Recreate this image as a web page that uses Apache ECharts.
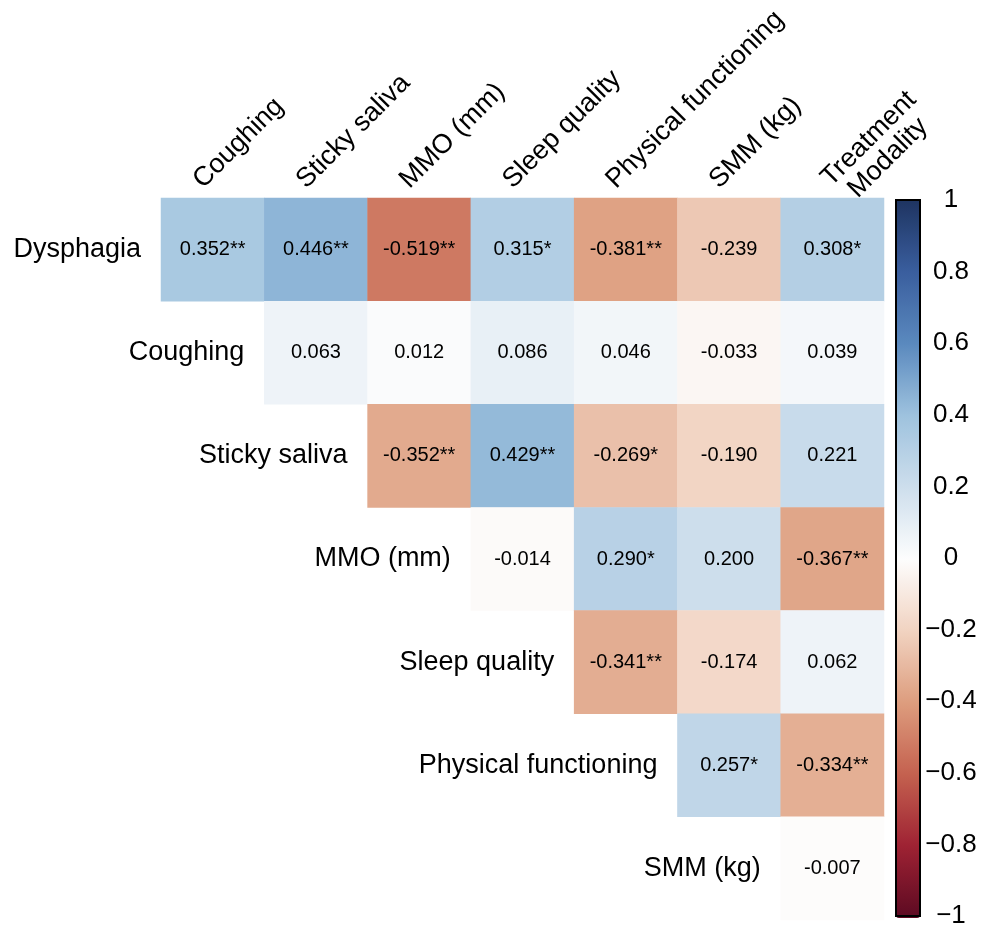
<!DOCTYPE html>
<html>
<head>
<meta charset="utf-8">
<script src="https://cdn.jsdelivr.net/npm/echarts@6/dist/echarts.min.js"></script>
<style>
  html, body { margin: 0; padding: 0; background: #ffffff; }
  #chart { width: 989px; height: 929px; }
</style>
</head>
<body>
<div id="chart"></div>
<script>
// ---- Data ----
const rowLabels = ['Dysphagia', 'Coughing', 'Sticky saliva', 'MMO (mm)', 'Sleep quality', 'Physical functioning', 'SMM (kg)'];
const colLabels = ['Coughing', 'Sticky saliva', 'MMO (mm)', 'Sleep quality', 'Physical functioning', 'SMM (kg)', 'Treatment\nModality'];

// upper-triangle correlation values, each row starts at its diagonal column
const rowDysphagia = [0.352, 0.446, -0.519, 0.315, -0.381, -0.239, 0.308];
const rowCoughing = [0.063, 0.012, 0.086, 0.046, -0.033, 0.039];
const rowStickySaliva = [-0.352, 0.429, -0.269, -0.190, 0.221];
const rowMMO = [-0.014, 0.290, 0.200, -0.367];
const rowSleepQuality = [-0.341, -0.174, 0.062];
const rowPhysicalFunctioning = [0.257, -0.334];
const rowSMM = [-0.007];

// significance marks, same layout
const sigDysphagia = ['**', '**', '**', '*', '**', '', '*'];
const sigCoughing = ['', '', '', '', '', ''];
const sigStickySaliva = ['**', '**', '*', '', ''];
const sigMMO = ['', '*', '', '**'];
const sigSleepQuality = ['**', '', ''];
const sigPhysicalFunctioning = ['*', '**'];
const sigSMM = [''];

const colorbarTicks = [1, 0.8, 0.6, 0.4, 0.2, 0, -0.2, -0.4, -0.6, -0.8, -1];
const paletteStops = ['#5C0A22', '#9E2233', '#C4614F', '#DD9D7E', '#F1D3C1', '#FDFDFD', '#CDDEEC', '#9EC2DE', '#5A89BE', '#3A5E9E', '#1E3461'];

// ---- Build ----
const valueRows = [rowDysphagia, rowCoughing, rowStickySaliva, rowMMO, rowSleepQuality, rowPhysicalFunctioning, rowSMM];
const sigRows = [sigDysphagia, sigCoughing, sigStickySaliva, sigMMO, sigSleepQuality, sigPhysicalFunctioning, sigSMM];

const heatData = [];
valueRows.forEach((row, r) => {
  row.forEach((v, k) => {
    heatData.push([r + k, r, v]);
  });
});

const FONT = '"Liberation Sans", Arial, Helvetica, sans-serif';

const chart = echarts.init(document.getElementById('chart'), null, { renderer: 'canvas' });

const option = {
  backgroundColor: '#ffffff',
  animation: false,
  textStyle: { fontFamily: FONT },
  grid: [
    { left: 161, top: 198, width: 723, height: 722 },
    { left: 146, top: 198, width: 723, height: 722 },
    { left: 896, top: 200, width: 24, height: 718, show: true, borderColor: '#000000', borderWidth: 2, backgroundColor: 'transparent', z: 6 }
  ],
  xAxis: [
    { type: 'category', gridIndex: 0, data: colLabels, show: false },
    {
      type: 'category', gridIndex: 1, data: colLabels, position: 'top',
      axisLine: { show: false }, axisTick: { show: false }, splitLine: { show: false },
      axisLabel: {
        interval: 0, rotate: 45, margin: 14, fontSize: 27, color: '#000000', fontFamily: FONT,
        formatter: (v) => v.indexOf('\n') >= 0
          ? '{sp| }\n' + v.split('\n').map(s => '{ml|' + s + '}').join('\n')
          : v,
        rich: {
          ml: { width: 137, align: 'center', fontSize: 27, lineHeight: 27, color: '#000000', fontFamily: FONT },
          sp: { fontSize: 10, lineHeight: 36, height: 36 }
        }
      }
    },
    { type: 'value', gridIndex: 2, show: false, min: 0, max: 1 }
  ],
  yAxis: [
    { type: 'category', gridIndex: 0, data: rowLabels, inverse: true, show: false },
    { type: 'value', gridIndex: 1, show: false },
    {
      type: 'value', gridIndex: 2, min: -1, max: 1, interval: 0.2, position: 'right',
      axisLine: { show: false },
      axisTick: { show: true, inside: false, length: 5, lineStyle: { color: '#000000', width: 2 } },
      splitLine: { show: false },
      axisLabel: {
        show: true, margin: 31, align: 'center', fontSize: 26, color: '#000000', fontFamily: FONT,
        formatter: (v) => String(Math.round(v * 10) / 10).replace('-', '\u2212')
      }
    }
  ],
  visualMap: {
    type: 'continuous',
    seriesIndex: 0,
    min: -1, max: 1,
    calculable: false,
    orient: 'vertical',
    left: 896, top: 200,
    itemWidth: 24, itemHeight: 718,
    padding: 0,
    text: null,
    hoverLink: false,
    z: 1,
    inRange: { color: paletteStops }
  },
  series: [
    {
      type: 'heatmap',
      xAxisIndex: 0, yAxisIndex: 0,
      data: heatData,
      silent: true,
      emphasis: { disabled: true },
      itemStyle: { borderWidth: 0 },
      label: {
        show: true, fontSize: 20, color: '#000000', fontFamily: FONT,
        formatter: (p) => {
          const c = p.value[0], r = p.value[1];
          return p.value[2].toFixed(3) + sigRows[r][c - r];
        }
      }
    },
    {
      type: 'custom',
      xAxisIndex: 0, yAxisIndex: 0,
      silent: true,
      data: rowLabels.map((n, i) => [i, i]),
      renderItem: (params, api) => {
        const p = api.coord([api.value(0), api.value(1)]);
        const s = api.size([1, 1]);
        return {
          type: 'text',
          x: p[0] - s[0] / 2 - 20,
          y: p[1],
          style: {
            text: rowLabels[params.dataIndex],
            align: 'right', verticalAlign: 'middle',
            fontSize: 27, fontFamily: FONT, fill: '#000000'
          }
        };
      }
    }
  ]
};

chart.setOption(option);
</script>
</body>
</html>
